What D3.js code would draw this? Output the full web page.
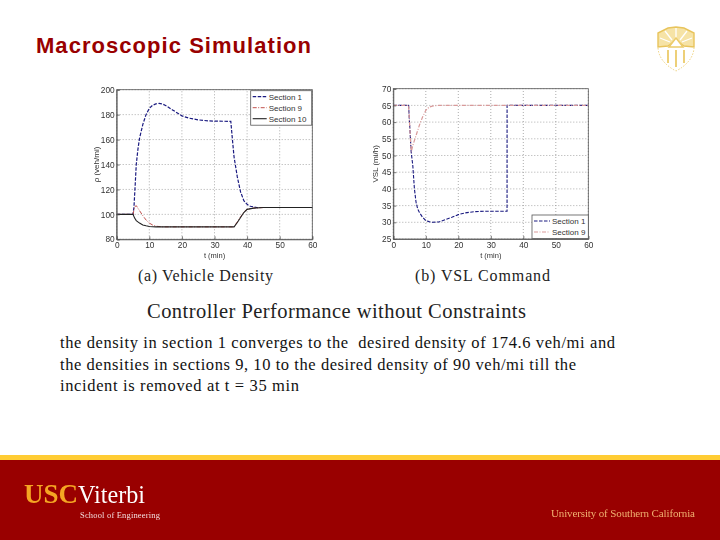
<!DOCTYPE html>
<html><head><meta charset="utf-8">
<script src="https://cdn.jsdelivr.net/npm/d3@7"></script>
<style>
html,body{margin:0;padding:0;background:#fff}
svg{display:block}
text{font-family:"Liberation Sans",Arial,sans-serif}
.serif{font-family:"Liberation Serif","Times New Roman",serif}
.ax text{font-size:8.3px;fill:#333}
.soft{filter:blur(.4px)}
</style></head><body>
<svg id="s" width="720" height="540"></svg>
<script>
const densityTicksX=[0,10,20,30,40,50,60];
const densityTicksY=[80,100,120,140,160,180,200];
const vslTicksY=[25,30,35,40,45,50,55,60,65,70];
const density1=[[0,100],[5,100],[5.3,106],[5.7,125],[6,140],[6.5,152],[7,161],[8,172],[9,180],[10,185],[11,187.5],[12,188.6],[13,189],[14,188.6],[15,187.4],[17,184],[20,179],[22,177.3],[25,175.8],[28,175],[30,174.8],[35,174.6],[35.5,160],[36,146],[37,130],[38,118],[39,111],[40,108],[41,106.5],[43,105.5],[45,105.5],[60,105.5]];
const density9=[[0,100],[5,100],[5.5,106],[6,107],[7,103],[8,99],[9,95.5],[10,93],[11,91.5],[12,90.5],[14,90],[36,90],[37,94],[38,98],[39,102],[40,104],[42,105],[45,105.5],[60,105.5]];
const density10=[[0,100],[5,100],[5.5,97],[6,95],[7,93],[8,91.5],[9,90.8],[10,90.3],[12,90],[36,90],[37,93.5],[38,97.5],[39,101.5],[40,104],[42,105],[45,105.5],[60,105.5]];
const vsl1=[[0,65],[4.7,65],[5.5,51],[6,47],[6.5,40],[7,36],[7.5,34],[8,33],[9,31.5],[10,30.5],[11,30.2],[12,30],[14,30.1],[16,30.8],[18,31.5],[20,32.3],[22,32.8],[25,33.2],[28,33.3],[35,33.3],[35.01,65],[60,65]];
const vsl9=[[0,65],[4.7,65],[5.5,51],[6,53],[7,56],[8,59],[9,61.5],[10,63.5],[11,64.5],[12,64.8],[14,65],[60,65]];
const bodyLines=["the density in section 1 converges to the  desired density of 174.6 veh/mi and","the densities in sections 9, 10 to the desired density of 90 veh/mi till the","incident is removed at t = 35 min"];
const bodyWidths=[555,516,239];

const svg=d3.select("#s");
svg.append("text").attr("x",36).attr("y",53).attr("font-size",22).attr("font-weight","bold").attr("fill","#990000").attr("textLength",275).text("Macroscopic Simulation");

function plot(o){
  const g=svg.append("g").attr("class","soft");
  const x=d3.scaleLinear().domain([0,60]).range(o.xr);
  const y=d3.scaleLinear().domain(o.yd).range(o.yr);
  const grid=g.append("g").attr("stroke","#888").attr("stroke-width",.7).attr("stroke-dasharray","1 2");
  densityTicksX.forEach(t=>grid.append("line").attr("x1",x(t)).attr("x2",x(t)).attr("y1",o.yr[0]).attr("y2",o.yr[1]));
  o.yt.forEach(t=>grid.append("line").attr("x1",o.xr[0]).attr("x2",o.xr[1]).attr("y1",y(t)).attr("y2",y(t)));
  const line=d3.line().x(d=>x(d[0])).y(d=>y(d[1]));
  o.series.forEach(s=>g.append("path").attr("d",line(s.d)).attr("fill","none").attr("stroke",s.c).attr("stroke-width",s.w||1).attr("stroke-dasharray",s.dash||null));
  const ax=g.append("g").attr("class","ax").attr("transform",`translate(0,${o.yr[0]})`).call(d3.axisBottom(x).tickValues(densityTicksX).tickSize(-3).tickPadding(3));
  const ay=g.append("g").attr("class","ax").attr("transform",`translate(${o.xr[0]},0)`).call(d3.axisLeft(y).tickValues(o.yt).tickSize(-3).tickPadding(2));
  [ax,ay].forEach(a=>{a.selectAll("path,line").attr("stroke","#555").attr("stroke-width",.8);});
  g.append("rect").attr("x",o.xr[0]).attr("y",o.yr[1]).attr("width",o.xr[1]-o.xr[0]).attr("height",o.yr[0]-o.yr[1]).attr("fill","none").attr("stroke","#555").attr("stroke-width",.8);
  g.append("text").attr("x",(o.xr[0]+o.xr[1])/2).attr("y",o.yr[0]+19).attr("text-anchor","middle").attr("font-size",7.5).attr("fill","#333").text("t (min)");
  g.append("text").attr("transform",`translate(${o.ylx},${(o.yr[0]+o.yr[1])/2}) rotate(-90)`).attr("text-anchor","middle").attr("font-size",8).attr("fill","#333").text(o.yl);
  const L=o.leg;
  g.append("rect").attr("x",L.x).attr("y",L.y).attr("width",L.w).attr("height",L.h).attr("fill","#fff").attr("stroke","#555").attr("stroke-width",.8);
  o.series.forEach((s,i)=>{
    const ly=L.y+L.first+i*L.step;
    g.append("line").attr("x1",L.x+2).attr("x2",L.x+L.sw).attr("y1",ly).attr("y2",ly).attr("stroke",s.c).attr("stroke-width",s.w||1).attr("stroke-dasharray",s.dash||null);
    g.append("text").attr("x",L.x+L.sw+2).attr("y",ly+3).attr("font-size",8).attr("fill","#333").text(s.n);
  });
  svg.append("text").attr("class","serif").attr("x",o.capx).attr("y",281).attr("font-size",16).attr("fill","#222").attr("textLength",o.capw).text(o.cap);
}
plot({xr:[116.7,312.3],yr:[239.3,89.7],yd:[80,200],yt:densityTicksY,ylx:99,yl:"ρ (veh/mi)",
  series:[{n:"Section 1",d:density1,c:"#1a1a80",w:1.2,dash:"3.5 1.5"},{n:"Section 9",d:density9,c:"#c0504d",dash:"4 1.5 1 1.5"},{n:"Section 10",d:density10,c:"#222",w:1.1}],
  leg:{x:250.7,y:90.7,w:61,h:34.5,first:6,step:11,sw:16},cap:"(a) Vehicle Density",capx:138,capw:135});
plot({xr:[393.3,588.3],yr:[239,88.7],yd:[25,70],yt:vslTicksY,ylx:378,yl:"VSL (mi/h)",
  series:[{n:"Section 1",d:vsl1,c:"#1a1a80",w:1.1,dash:"3.5 1.5"},{n:"Section 9",d:vsl9,c:"#d99a9a",w:1.2,dash:"4 1.5 1 1.5"}],
  leg:{x:532,y:215,w:56.3,h:23.5,first:6,step:11,sw:18},cap:"(b) VSL Command",capx:415,capw:135});

svg.append("text").attr("class","serif").attr("x",147).attr("y",318).attr("font-size",20.5).attr("fill","#222").attr("textLength",379).text("Controller Performance without Constraints");
bodyLines.forEach((t,i)=>svg.append("text").attr("class","serif").attr("x",60).attr("y",348+i*21.7).attr("font-size",16.5).attr("fill","#111").attr("textLength",bodyWidths[i]).style("white-space","pre").text(t));

/* shield crest */
const crest=svg.append("g").attr("fill","none").attr("stroke","#eccb6a").attr("stroke-width",1.4).attr("class","soft");
crest.append("path").attr("d","M658 48 Q659 62 676 71 Q693 62 694 48").attr("stroke-width",.9).attr("stroke-dasharray","1.5 1.5");
crest.append("path").attr("d","M658 47 L658 33 L668 28 L676 27 L684 28 L694 33 L694 47 L684 46 L676 40 L668 46 Z").attr("fill","#f6e3a6").attr("stroke","#e8c45c");
crest.append("path").attr("d","M660 38 L670 42 M665 31 L672 40 M676 28 L676 39 M687 31 L680 40 M692 38 L682 42").attr("stroke","#fff").attr("stroke-width",1.3);
crest.append("path").attr("d","M669 47 L676 38 L683 47 Z").attr("fill","#fff");
crest.append("path").attr("d","M668 50 V63 M676 50 V67 M684 50 V63").attr("stroke-width",1.8);

/* footer band */
svg.append("rect").attr("x",0).attr("y",455).attr("width",720).attr("height",5).attr("fill","#ffcc33");
svg.append("rect").attr("x",0).attr("y",460).attr("width",720).attr("height",80).attr("fill","#990000");
const f=svg.append("g").attr("class","soft");
f.append("text").attr("class","serif").attr("x",24).attr("y",503).attr("font-size",28).attr("font-weight","bold").attr("fill","#f5a623").attr("textLength",54).attr("lengthAdjust","spacingAndGlyphs").text("USC");
f.append("text").attr("class","serif").attr("x",78).attr("y",503).attr("font-size",25).attr("fill","#fff").attr("textLength",67).attr("lengthAdjust","spacingAndGlyphs").text("Viterbi");
f.append("text").attr("class","serif").attr("x",80).attr("y",518).attr("font-size",8.5).attr("fill","#f2dcdc").attr("textLength",80).text("School of Engineering");
f.append("text").attr("class","serif").attr("x",551).attr("y",517).attr("font-size",11).attr("fill","#f0b070").attr("textLength",144).text("University of Southern California");
</script></body></html>
